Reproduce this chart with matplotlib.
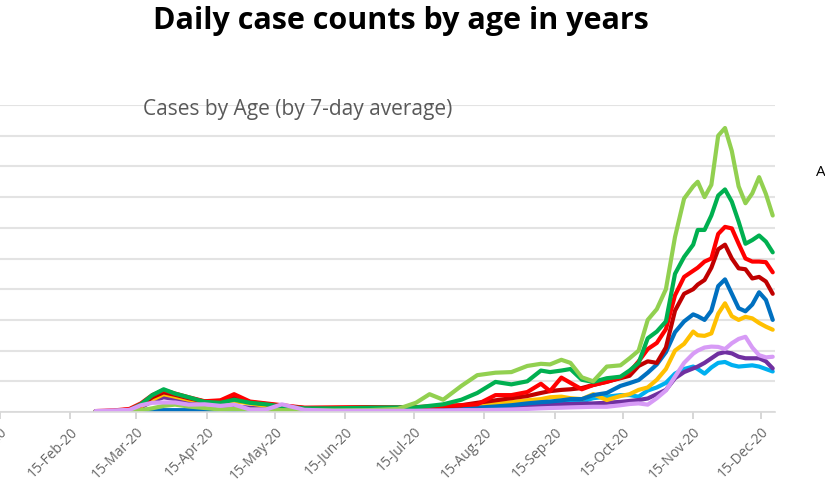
import matplotlib
matplotlib.use("Agg")
import matplotlib.pyplot as plt
import pandas as pd

plt.rcParams['font.family'] = ['Open Sans', 'DejaVu Sans']

dates = ["2020-02-26", "2020-03-05", "2020-03-12", "2020-03-17", "2020-03-22", "2020-03-27",
         "2020-04-01", "2020-04-07", "2020-04-14", "2020-04-21", "2020-04-27", "2020-05-04",
         "2020-05-11", "2020-05-18", "2020-05-28", "2020-06-10", "2020-06-25", "2020-07-08",
         "2020-07-16", "2020-07-22", "2020-07-28", "2020-08-05", "2020-08-12", "2020-08-20",
         "2020-08-27", "2020-09-03", "2020-09-09", "2020-09-13", "2020-09-18", "2020-09-22",
         "2020-09-27", "2020-10-02", "2020-10-08", "2020-10-14", "2020-10-18", "2020-10-22",
         "2020-10-26", "2020-10-30", "2020-11-03", "2020-11-07", "2020-11-11", "2020-11-15",
         "2020-11-17", "2020-11-20", "2020-11-23", "2020-11-26", "2020-11-29", "2020-12-02",
         "2020-12-05", "2020-12-08", "2020-12-11", "2020-12-14", "2020-12-17", "2020-12-20"]

light_green = [2, 3, 4, 6, 12, 20, 24, 18, 13, 8, 10, 8, 7, 6, 6, 5, 6, 10,
               30, 58, 40, 85, 120, 128, 130, 150, 157, 155, 170, 160, 113, 100, 148, 152,
               175, 200, 300, 335, 400, 570, 695, 735, 750, 700, 740, 900, 925, 850,
               735, 680, 712, 765, 710, 640]
green = [2, 3, 6, 25, 55, 74, 60, 48, 33, 30, 40, 30, 25, 18, 12, 12, 14, 15,
         15, 20, 25, 40, 62, 98, 90, 100, 135, 130, 135, 140, 105, 98, 110, 115,
         135, 160, 240, 262, 295, 450, 505, 545, 593, 593, 640, 705, 725, 685,
         620, 548, 560, 575, 555, 520]
red = [3, 5, 10, 28, 55, 71, 60, 48, 35, 38, 58, 34, 28, 22, 14, 15, 16, 15,
       16, 18, 20, 22, 25, 55, 55, 65, 92, 68, 112, 95, 74, 88, 98, 112,
       130, 165, 205, 225, 270, 380, 440, 460, 470, 490, 500, 580, 603, 598,
       548, 500, 490, 490, 488, 455]
dark_red = [2, 4, 8, 22, 48, 64, 56, 45, 34, 36, 52, 32, 26, 20, 13, 13, 14, 14,
            15, 17, 18, 22, 30, 38, 45, 52, 62, 68, 72, 74, 78, 88, 99, 110,
            118, 150, 165, 160, 210, 330, 385, 400, 415, 430, 470, 530, 545, 500,
            468, 465, 435, 440, 425, 385]
blue = [1, 2, 3, 4, 5, 6, 6, 6, 5, 5, 5, 4, 4, 4, 4, 4, 5, 5,
        6, 7, 8, 10, 14, 18, 22, 28, 32, 34, 38, 42, 42, 55, 62, 85,
        94, 104, 128, 155, 195, 260, 295, 318, 312, 300, 330, 410, 432, 385,
        338, 328, 350, 390, 365, 300]
yellow = [2, 3, 6, 18, 40, 58, 50, 40, 35, 34, 35, 28, 20, 15, 10, 8, 8, 8,
          9, 10, 12, 15, 20, 28, 32, 38, 42, 48, 50, 45, 42, 58, 39, 52,
          58, 72, 80, 105, 140, 200, 222, 262, 250, 248, 256, 320, 354, 312,
          300, 310, 305, 290, 278, 268]
light_blue = [1, 1, 2, 2, 3, 3, 3, 3, 2, 2, 2, 2, 2, 2, 2, 2, 2, 3,
              3, 4, 5, 7, 10, 14, 18, 22, 26, 28, 30, 32, 34, 45, 50, 55,
              55, 50, 70, 80, 95, 125, 140, 148, 140, 125, 145, 160, 163, 153,
              148, 150, 152, 148, 140, 132]
purple = [2, 3, 5, 15, 35, 48, 42, 32, 28, 22, 18, 14, 12, 10, 6, 5, 5, 5,
          6, 7, 8, 10, 12, 15, 18, 20, 22, 24, 25, 26, 27, 28, 30, 33,
          36, 39, 44, 58, 72, 110, 130, 142, 148, 160, 175, 190, 195, 191,
          180, 175, 175, 175, 165, 142]
pink = [3, 5, 7, 22, 30, 31, 31, 24, 25, 20, 24, 8, 8, 25, 7, 4, 4, 4,
        4, 5, 5, 6, 6, 7, 8, 10, 12, 13, 14, 15, 16, 17, 17, 22,
        26, 28, 24, 45, 70, 115, 160, 190, 200, 210, 213, 212, 205, 224,
        238, 245, 210, 185, 178, 180]

series = [
    ("0-4", light_blue, "#00B0F0"),
    ("5-14", purple, "#7030A0"),
    ("65-74", yellow, "#FFC000"),
    ("55-64", blue, "#0070C0"),
    ("45-54", dark_red, "#C00000"),
    ("35-44", red, "#FF0000"),
    ("25-34", green, "#00B050"),
    ("15-24", light_green, "#92D050"),
    ("75+", pink, "#D79BF6"),
]

tick_dates = ["2020-01-15", "2020-02-15", "2020-03-15", "2020-04-15", "2020-05-15",
              "2020-06-15", "2020-07-15", "2020-08-15", "2020-09-15", "2020-10-15",
              "2020-11-15", "2020-12-15"]

x = pd.to_datetime(dates)
fig = plt.figure(figsize=(8.25, 5.01), dpi=100)
ax = fig.add_axes([0.0, 89 / 501, 775 / 825, (412 - 105) / 501])

for name, vals, col in series:
    ax.plot(x, vals, color=col, lw=3.0, solid_joinstyle='round', solid_capstyle='round', label=name)

ax.set_xlim(pd.Timestamp("2020-01-15"), pd.Timestamp("2020-12-21"))
ax.set_ylim(0, 1000)
ax.set_yticks(range(0, 1001, 100))
ax.yaxis.grid(True, color="#e3e3e3", lw=1.5)
ax.set_axisbelow(True)
ax.tick_params(axis='y', left=False, labelleft=False)

tks = pd.to_datetime(tick_dates)
ax.set_xticks(tks)
ax.set_xticklabels([t.strftime("%d-%b-%y") for t in tks], rotation=45, ha='right',
                   rotation_mode='anchor', fontsize=10, color="#666666")
ax.tick_params(axis='x', length=5, color="#d0d0d0", width=1.2, pad=4)

for s in ['top', 'right', 'left']:
    ax.spines[s].set_visible(False)
ax.spines['bottom'].set_color("#d9d9d9")
ax.spines['bottom'].set_linewidth(1.2)

fig.text(401 / 825, 1 - 21 / 501, "Daily case counts by age in years", ha='center', va='center',
         fontsize=22, fontweight='bold', color='black')
fig.text(143 / 825, 1 - 110 / 501, "Cases by Age (by 7-day average)", ha='left', va='center',
         fontsize=15, color="#595959")
fig.text(815.5 / 825, 1 - 172 / 501, "Age", ha='left', va='center', fontsize=11, color='black')

fig.savefig("out.png", dpi=100)
